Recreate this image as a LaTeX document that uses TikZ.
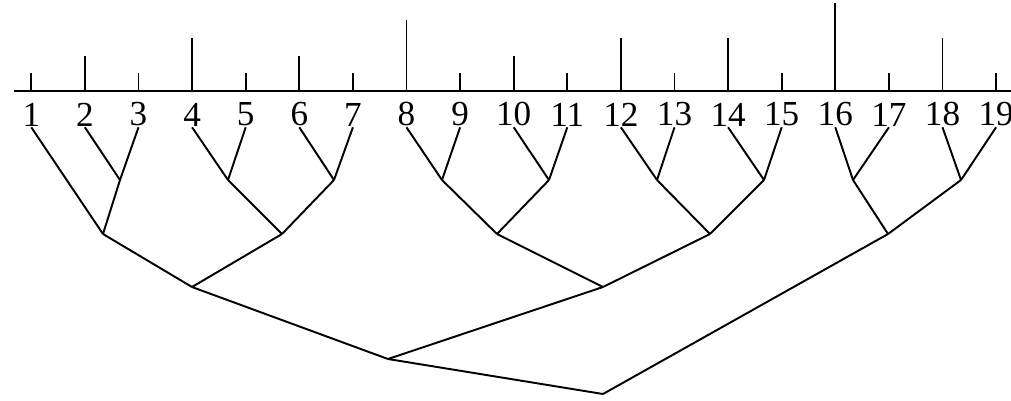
\documentclass[tikz,border=0pt]{standalone}
\usepackage{fontspec}
\setmainfont{Liberation Serif}
\begin{document}
\begin{tikzpicture}[x=0.02cm,y=-0.02cm,line width=1.1pt,
  leaf/.style={anchor=south,inner sep=0pt,font=\fontsize{20}{24}\selectfont}]
  \useasboundingbox (0,0) rectangle (1011,400);
  \coordinate (L) at (14,91);
  \coordinate (R) at (1011,91);
  \draw (L) -- (R);
  \foreach \i/\h in {1/1,2/2,3/1,4/3,5/1,6/2,7/1,8/4,9/1,10/2,11/1,12/3,13/1,14/3,15/1,16/5,17/1,18/3,19/1} {
    \coordinate (t\i) at ({31.3+(\i-1)*53.6},91);
    \coordinate (u\i) at ({31.3+(\i-1)*53.6},{91-17.7*\h});
    \draw (t\i) -- (u\i);
    \node[leaf] (n\i) at ({31.3+(\i-1)*53.6},127.3) {\i};
  }
  \coordinate (a23) at (120,180);
  \coordinate (a45) at (228,180);
  \coordinate (a67) at (334,180);
  \coordinate (a89) at (442,180);
  \coordinate (a1011) at (549,180);
  \coordinate (a1213) at (657,180);
  \coordinate (a1415) at (764,180);
  \coordinate (a1617) at (853,180);
  \coordinate (a1819) at (961,180);
  \coordinate (b13) at (103,234);
  \coordinate (b47) at (282,234);
  \coordinate (b811) at (497,234);
  \coordinate (b1215) at (710,234);
  \coordinate (b1619) at (888,234);
  \coordinate (c17) at (192,287);
  \coordinate (c815) at (603,287);
  \coordinate (d115) at (388,359);
  \coordinate (root) at (603,394);
  \foreach \i/\p in {1/b13,2/a23,3/a23,4/a45,5/a45,6/a67,7/a67,8/a89,9/a89,10/a1011,11/a1011,12/a1213,13/a1213,14/a1415,15/a1415,16/a1617,17/a1617,18/a1819,19/a1819}
    \draw (n\i.south) -- (\p);
  \foreach \u/\v in {a23/b13,a45/b47,a67/b47,a89/b811,a1011/b811,a1213/b1215,a1415/b1215,a1617/b1619,a1819/b1619,b13/c17,b47/c17,b811/c815,b1215/c815,c17/d115,c815/d115,d115/root,b1619/root}
    \draw (\u) -- (\v);
\end{tikzpicture}
\end{document}
